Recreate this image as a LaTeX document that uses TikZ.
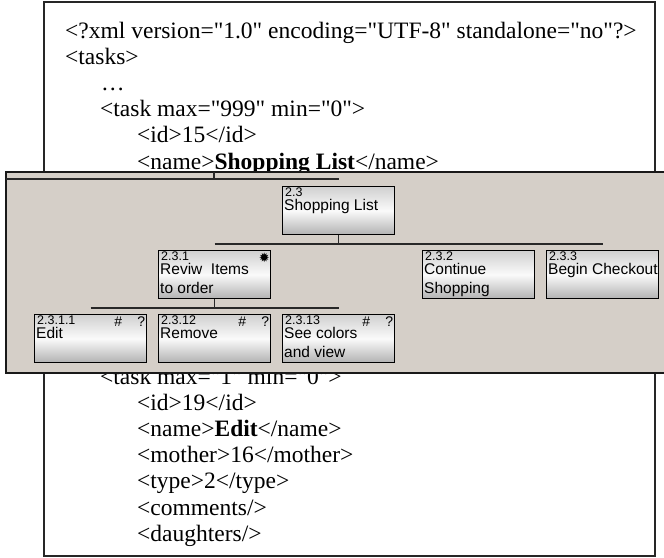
\documentclass[tikz,border=0pt]{standalone}
\usepackage{fontspec}
\newfontfamily\xmlfont{Liberation Serif}
\newfontfamily\boxfont{Liberation Sans}
\newfontfamily\symfont{DejaVu Sans}
\definecolor{panelgray}{RGB}{213,207,200}
\definecolor{lineclr}{RGB}{40,40,40}
\definecolor{boxtop}{RGB}{208,208,208}
\definecolor{boxmid}{RGB}{250,250,250}
\definecolor{boxbot}{RGB}{178,178,178}
\begin{document}
\begin{tikzpicture}[x=1pt,y=-1pt,
  xmltext/.style={font=\xmlfont\fontsize{23.5}{23.5}\selectfont, anchor=base west, inner sep=0pt},
  taskbox/.style={draw=black, line width=1.2pt, top color=boxtop, bottom color=boxbot, middle color=boxmid,
    minimum width=112pt, minimum height=48pt, inner sep=0pt, anchor=north west},
  lbl/.style={font=\boxfont\fontsize{12.5}{12.5}\selectfont, anchor=north west, inner sep=0pt},
  nm/.style={font=\boxfont\fontsize{15.5}{15.5}\selectfont, anchor=base west, inner sep=0pt},
  flagtxt/.style={font=\boxfont\fontsize{14}{14}\selectfont, anchor=center, inner sep=0pt},
  tree/.style={draw=lineclr, line width=1.5pt}]
\useasboundingbox[fill=white] (0,0) rectangle (664,557);

% XML document box
\draw[line width=1.5pt, draw=black!85] (44,2) rectangle (655,556);
\node[xmltext] (x1) at (65,38) {<?xml version="1.0" encoding="UTF-8" standalone="no"?>};
\node[xmltext] (x2) at (65,64.2) {<tasks>};
\node[xmltext] (x3) at (101,90.4) {…};
\node[xmltext] (x4) at (100,116.6) {<task max="999" min="0">};
\node[xmltext] (x5) at (137,142.8) {<id>15</id>};
\node[xmltext] (x6) at (137,169) {<name>\textbf{Shopping List}</name>};
\node[xmltext] (y1) at (100,384) {<task max="1" min="0">};
\node[xmltext] (y2) at (137,410.2) {<id>19</id>};
\node[xmltext] (y3) at (137,436.4) {<name>\textbf{Edit}</name>};
\node[xmltext] (y4) at (137,462.6) {<mother>16</mother>};
\node[xmltext] (y5) at (137,488.8) {<type>2</type>};
\node[xmltext] (y6) at (137,515) {<comments/>};
\node[xmltext] (y7) at (137,541.2) {<daughters/>};

% overlay panel
\fill[panelgray] (6,172) rectangle (666,373);
\draw[line width=2pt, draw=black!90] (666,172) -- (6,172) -- (6,373) -- (666,373);

% line from level above
\coordinate (t1) at (6,179);
\coordinate (t2) at (339,179);
\coordinate (t3) at (214,172);
\draw[tree] (t1) -- (t2);
\draw[tree] (t3) -- (t3 |- t1);

% task boxes
\node[taskbox] (n23) at (282,186) {};
\node[taskbox] (n231) at (158,250) {};
\node[taskbox] (n232) at (422,250) {};
\node[taskbox] (n233) at (546,250) {};
\node[taskbox] (n2311) at (34,314) {};
\node[taskbox] (n2312) at (158,314) {};
\node[taskbox] (n2313) at (282,314) {};

% connectors
\draw[tree] (n23.south) -- ++(0,9) coordinate (b1);
\draw[tree] (n231.north |- b1) -- (n233.north |- b1);
\draw[tree] (n231.south) -- ++(0,9) coordinate (b2);
\draw[tree] (n2311.north |- b2) -- (n2313.north |- b2);

% texts
\node[lbl] (l23) at ([xshift=3pt,yshift=-1.5pt]n23.north west) {2.3};
\node[nm] (m23) at ([xshift=2pt,yshift=-24pt]n23.north west) {Shopping List};

\node[lbl] (l231) at ([xshift=3pt,yshift=-1.5pt]n231.north west) {2.3.1};
\node[nm] (m231a) at ([xshift=2pt,yshift=-24pt]n231.north west) {Reviw\ \ Items};
\node[nm] (m231b) at ([xshift=2pt,yshift=-43pt]n231.north west) {to order};
\node[font=\symfont\fontsize{13}{13}\selectfont, inner sep=0pt] (ast) at ([xshift=-7pt,yshift=-8pt]n231.north east) {✹};

\node[lbl] (l232) at ([xshift=3pt,yshift=-1.5pt]n232.north west) {2.3.2};
\node[nm] (m232a) at ([xshift=2pt,yshift=-24pt]n232.north west) {Continue};
\node[nm] (m232b) at ([xshift=2pt,yshift=-43pt]n232.north west) {Shopping};

\node[lbl] (l233) at ([xshift=3pt,yshift=-1.5pt]n233.north west) {2.3.3};
\node[nm] (m233) at ([xshift=2pt,yshift=-24pt]n233.north west) {Begin Checkout};

\node[lbl] (l2311) at ([xshift=3pt,yshift=-1.5pt]n2311.north west) {2.3.1.1};
\node[nm] (m2311) at ([xshift=2pt,yshift=-24pt]n2311.north west) {Edit};
\node[flagtxt] (h2311) at ([xshift=-29pt,yshift=-8pt]n2311.north east) {\#};
\node[flagtxt] (q2311) at ([xshift=-6pt,yshift=-8pt]n2311.north east) {?};

\node[lbl] (l2312) at ([xshift=3pt,yshift=-1.5pt]n2312.north west) {2.3.12};
\node[nm] (m2312) at ([xshift=2pt,yshift=-24pt]n2312.north west) {Remove};
\node[flagtxt] (h2312) at ([xshift=-29pt,yshift=-8pt]n2312.north east) {\#};
\node[flagtxt] (q2312) at ([xshift=-6pt,yshift=-8pt]n2312.north east) {?};

\node[lbl] (l2313) at ([xshift=3pt,yshift=-1.5pt]n2313.north west) {2.3.13};
\node[nm] (m2313a) at ([xshift=2pt,yshift=-24pt]n2313.north west) {See colors};
\node[nm] (m2313b) at ([xshift=2pt,yshift=-43pt]n2313.north west) {and view};
\node[flagtxt] (h2313) at ([xshift=-29pt,yshift=-8pt]n2313.north east) {\#};
\node[flagtxt] (q2313) at ([xshift=-6pt,yshift=-8pt]n2313.north east) {?};
\end{tikzpicture}
\end{document}
